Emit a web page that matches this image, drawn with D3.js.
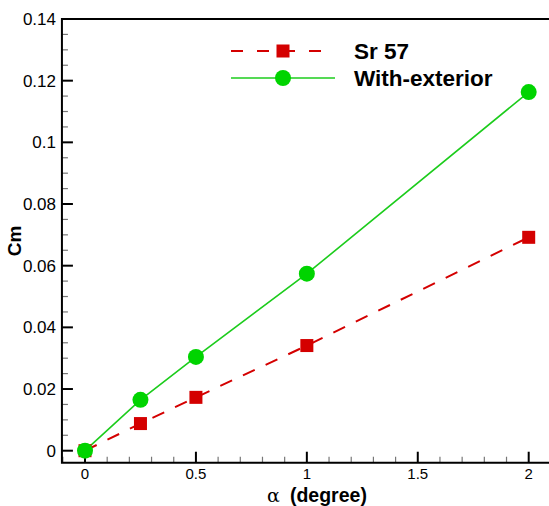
<!DOCTYPE html>
<html>
<head>
<meta charset="utf-8">
<script src="https://cdn.jsdelivr.net/npm/d3@7"></script>
<style>
  html, body { margin: 0; padding: 0; background: #fff; }
  svg { display: block; }
</style>
</head>
<body>
<svg id="chart" width="549" height="506"></svg>
<script>
const alpha = [0, 0.25, 0.5, 1, 2];
const sr57 = [0, 0.0088, 0.0173, 0.0341, 0.0692];
const withExterior = [0, 0.0165, 0.0304, 0.0574, 0.1163];
const seriesNames = ["Sr 57", "With-exterior"];
const xTicks = [0, 0.5, 1, 1.5, 2];
const xTickLabels = ["0", "0.5", "1", "1.5", "2"];
const yTicks = [0, 0.02, 0.04, 0.06, 0.08, 0.1, 0.12, 0.14];
const yTickLabels = ["0", "0.02", "0.04", "0.06", "0.08", "0.1", "0.12", "0.14"];
const xTitleSymbol = "\u03B1";
const xTitleText = "(degree)";
const yTitle = "Cm";

const svg = d3.select("#chart");
const x = d3.scaleLinear().domain([0, 2]).range([85, 528.7]);
const y = d3.scaleLinear().domain([0, 0.14]).range([450.7, 19]);
const xMin = -0.104, xMax = 2.1, yMin = -0.0039, yMax = 0.14;

const red = "#d40000", green = "#00d400", greenLine = "#1ccc1c";
const font = "Arial, 'Liberation Sans', Helvetica, sans-serif";

// minor ticks
const xMinor = d3.range(-0.1, 2.101, 0.1).map(v => +v.toFixed(2)).filter(v => Math.abs(v*2 - Math.round(v*2)) > 1e-6);
const yMinor = d3.range(0, 0.1401, 0.005).map(v => +v.toFixed(3)).filter(v => Math.abs(v/0.02 - Math.round(v/0.02)) > 1e-6);

const g = svg.append("g");
g.selectAll(".xminor").data(xMinor).enter().append("line")
  .attr("x1", d => x(d)).attr("x2", d => x(d))
  .attr("y1", y(yMin)).attr("y2", y(yMin) - 6)
  .attr("stroke", "#777").attr("stroke-width", 1.2);
g.selectAll(".yminor").data(yMinor).enter().append("line")
  .attr("x1", x(xMin)).attr("x2", x(xMin) + 6)
  .attr("y1", d => y(d)).attr("y2", d => y(d))
  .attr("stroke", "#777").attr("stroke-width", 1.2);
g.selectAll(".xmajor").data(xTicks).enter().append("line")
  .attr("x1", d => x(d)).attr("x2", d => x(d))
  .attr("y1", y(yMin)).attr("y2", y(yMin) - 11)
  .attr("stroke", "#000").attr("stroke-width", 2);
g.selectAll(".ymajor").data(yTicks).enter().append("line")
  .attr("x1", x(xMin)).attr("x2", x(xMin) + 11)
  .attr("y1", d => y(d)).attr("y2", d => y(d))
  .attr("stroke", "#000").attr("stroke-width", 2);

// frame
g.append("path")
  .attr("d", `M${x(xMax)},${y(yMax)} L${x(xMin)},${y(yMax)} L${x(xMin)},${y(yMin)} L${x(xMax)},${y(yMin)}`)
  .attr("fill", "none").attr("stroke", "#000").attr("stroke-width", 2);

// tick labels
g.selectAll(".xl").data(xTicks).enter().append("text")
  .attr("x", d => x(d)).attr("y", 479)
  .attr("text-anchor", "middle").attr("font-family", font).attr("font-size", 15)
  .text((d, i) => xTickLabels[i]);
g.selectAll(".yl").data(yTicks).enter().append("text")
  .attr("x", 56).attr("y", d => y(d) + 6)
  .attr("text-anchor", "end").attr("font-family", font).attr("font-size", 17)
  .text((d, i) => yTickLabels[i]);

// titles
const xt = svg.append("text").attr("x", 317).attr("y", 502)
  .attr("text-anchor", "middle").attr("font-family", font).attr("font-size", 19.5).attr("font-weight", "bold");
xt.append("tspan").attr("font-family", "'DejaVu Serif', 'Liberation Serif', serif").attr("font-weight", "normal")
  .attr("font-size", 19).text(xTitleSymbol);
xt.append("tspan").attr("dx", 10).text(xTitleText);
svg.append("text").attr("transform", "translate(21,241) rotate(-90)")
  .attr("text-anchor", "middle").attr("font-family", font).attr("font-size", 19).attr("font-weight", "bold")
  .text(yTitle);

// data
const line = d3.line().x(d => x(d[0])).y(d => y(d[1]));
const srData = alpha.map((a, i) => [a, sr57[i]]);
const weData = alpha.map((a, i) => [a, withExterior[i]]);

g.append("path").datum(srData).attr("d", line)
  .attr("fill", "none").attr("stroke", red).attr("stroke-width", 2).attr("stroke-dasharray", "13,12");
g.append("path").datum(weData).attr("d", line)
  .attr("fill", "none").attr("stroke", greenLine).attr("stroke-width", 1.6);

g.selectAll(".sq").data(srData).enter().append("rect")
  .attr("x", d => x(d[0]) - 6.5).attr("y", d => y(d[1]) - 6.5)
  .attr("width", 13).attr("height", 13).attr("fill", red);
g.selectAll(".ci").data(weData).enter().append("circle")
  .attr("cx", d => x(d[0])).attr("cy", d => y(d[1])).attr("r", 8).attr("fill", green);

// legend
const lg = svg.append("g");
lg.append("line").attr("x1", 231).attr("x2", 322).attr("y1", 51).attr("y2", 51)
  .attr("stroke", red).attr("stroke-width", 2).attr("stroke-dasharray", "12,14");
lg.append("rect").attr("x", 283 - 6.5).attr("y", 51 - 6.5).attr("width", 13).attr("height", 13).attr("fill", red);
lg.append("line").attr("x1", 231).attr("x2", 335).attr("y1", 78).attr("y2", 78)
  .attr("stroke", greenLine).attr("stroke-width", 1.6);
lg.append("circle").attr("cx", 283).attr("cy", 78).attr("r", 8).attr("fill", green);
lg.selectAll(".lt").data(seriesNames).enter().append("text")
  .attr("x", 354).attr("y", (d, i) => 59 + i * 27)
  .attr("font-family", font).attr("font-size", 22.5).attr("font-weight", "bold")
  .text(d => d);
</script>
</body>
</html>
